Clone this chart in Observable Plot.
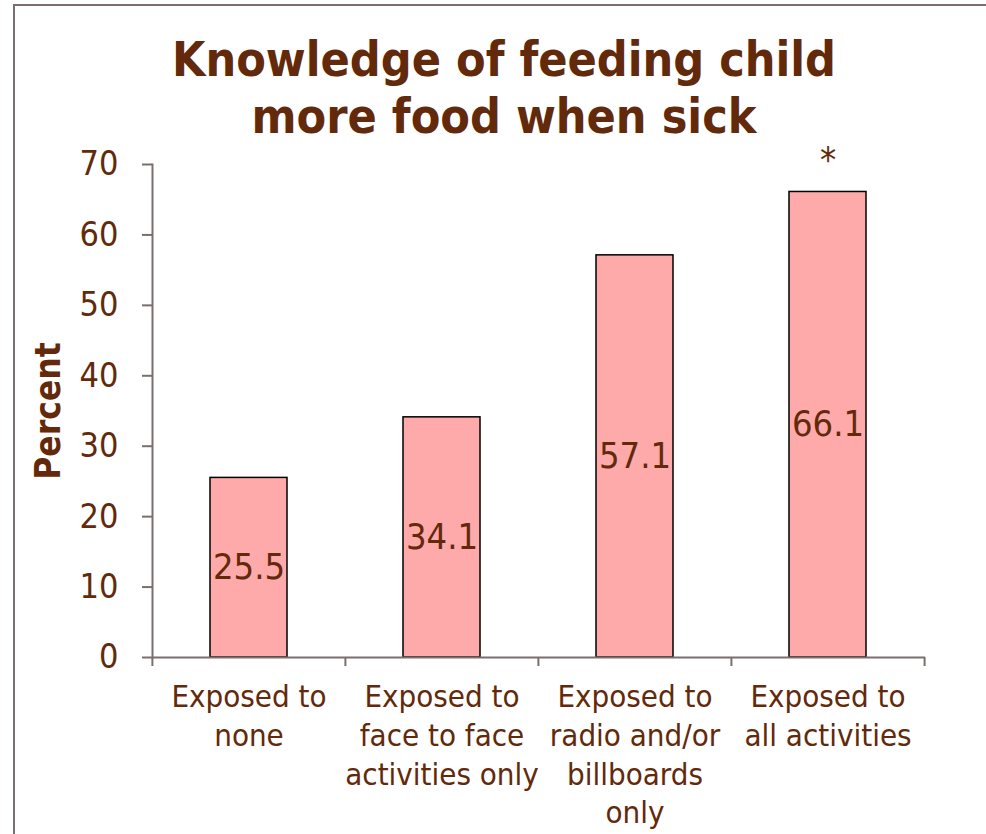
<!DOCTYPE html>
<html>
<head>
<meta charset="utf-8">
<script src="https://cdn.jsdelivr.net/npm/d3@7"></script>
<script src="https://cdn.jsdelivr.net/npm/@observablehq/plot@0.6"></script>
<style>
  html, body { margin: 0; padding: 0; background: #fff; }
  #wrap { position: relative; width: 986px; height: 834px; overflow: hidden; }
  #frame { position: absolute; left: 13px; top: 4px; width: 990px; height: 840px;
           border-top: 2px solid #7a6e6e; border-left: 2px solid #7a6e6e; }
  #title { position: absolute; left: 0; width: 1008px; top: 31px; text-align: center;
           font-family: "DejaVu Sans Condensed", "DejaVu Sans", sans-serif; font-weight: bold;
           font-size: 48px; line-height: 57px; color: #62290a; }
  #chart { position: absolute; left: 0; top: 0; }
</style>
</head>
<body>
<div id="wrap">
  <div id="frame"></div>
  <div id="chart"></div>
  <div id="title">Knowledge of feeding child<br>more food when sick</div>
</div>
<script>
const categories = ["none", "face", "radio", "all"];
const tickLabels = [
  "Exposed to\nnone",
  "Exposed to\nface to face\nactivities only",
  "Exposed to\nradio and/or\nbillboards\nonly",
  "Exposed to\nall activities"
];
const values = [25.5, 34.1, 57.1, 66.1];
const marks = ["", "", "", "*"];
const yTicks = [0, 10, 20, 30, 40, 50, 60, 70];

const data = categories.map((c, i) => ({cat: c, label: tickLabels[i], value: values[i], mark: marks[i]}));
const brown = "#62290a";
const axisGray = "#7a6e6e";
const font = "DejaVu Sans Condensed, DejaVu Sans, sans-serif";

const chart = Plot.plot({
  width: 986,
  height: 834,
  marginLeft: 152,
  marginRight: 61,
  marginTop: 164,
  marginBottom: 177,
  style: {fontFamily: font, color: brown, background: "transparent"},
  x: {domain: categories, paddingInner: 0.6, paddingOuter: 0.3},
  y: {domain: [0, 70]},
  marks: [
    Plot.barY(data, {x: "cat", y: "value", fill: "#ffaaaa", stroke: "#000", strokeWidth: 1.5}),
    Plot.text(data, {x: "cat", y: d => d.value / 2, text: d => d.value.toFixed(1), fontSize: 36, fill: brown}),
    Plot.text(data, {x: "cat", y: "value", text: "mark", dy: -31, fontSize: 36, fill: brown}),
    Plot.frame({anchor: "left", stroke: axisGray, strokeWidth: 2}),
    Plot.ruleY([0], {stroke: axisGray, strokeWidth: 2}),
    Plot.ruleX(data, {x: "cat", dx: -96.6, y1: 0, y2: 0, insetBottom: -9, stroke: axisGray, strokeWidth: 2}),
    Plot.ruleX([categories[categories.length - 1]], {x: d => d, dx: 96.6, y1: 0, y2: 0, insetBottom: -9, stroke: axisGray, strokeWidth: 2}),
    Plot.axisY({ticks: yTicks, tickSize: 10, tickPadding: 24, fontSize: 34, stroke: axisGray, strokeWidth: 2, label: null, fill: brown, strokeOpacity: 1}),
    Plot.text(["Percent"], {frameAnchor: "left", textAnchor: "middle", text: d => d, rotate: -90, dx: -104, fontSize: 35, fontWeight: "bold", fill: brown}),
    Plot.axisX({tickSize: 0, tickPadding: 22, fontSize: 31, lineHeight: 1.25, tickFormat: (d, i) => tickLabels[i], label: null, fill: brown, textAnchor: "middle"})
  ]
});
document.getElementById("chart").appendChild(chart);
</script>
</body>
</html>
